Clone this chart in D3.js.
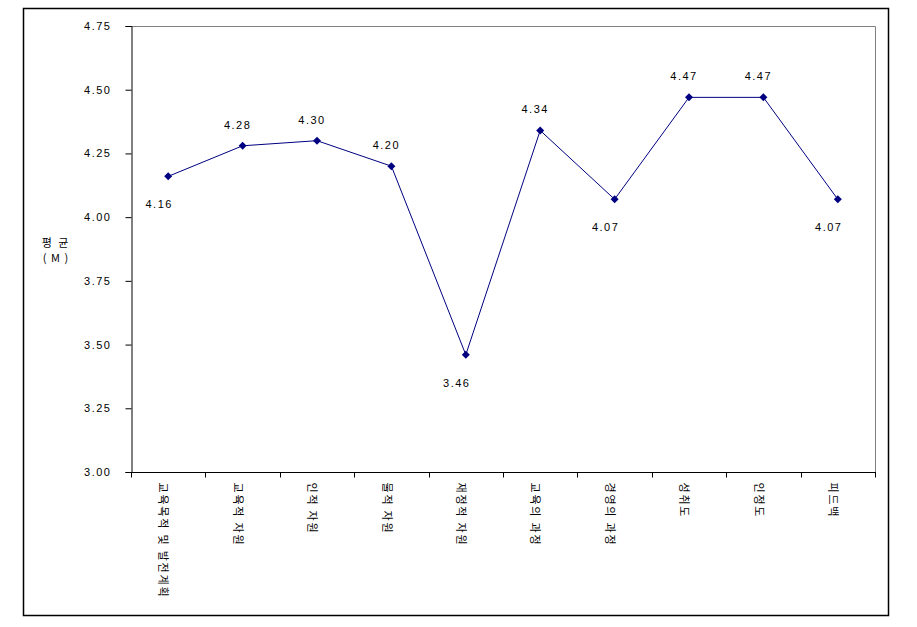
<!DOCTYPE html>
<html>
<head>
<meta charset="utf-8">
<script src="https://cdn.jsdelivr.net/npm/d3@7"></script>
<style>
body { margin: 0; background: #fff; }
svg text { font-family: "Noto Sans CJK KR", "DejaVu Sans", sans-serif; font-size: 11px; fill: #000; }
.num { font-family: "Liberation Sans", sans-serif; letter-spacing: 1.5px; font-size: 11px; }
.xlab { letter-spacing: 1.8px; }
</style>
</head>
<body>
<svg id="chart" width="917" height="627"></svg>
<script>
// categories and values
var categories = ["교육목적 및 발전계획", "교육적 자원", "인적 자원", "물적 자원", "재정적 자원",
    "교육의 과정", "경영의 과정", "성취도", "인정도", "피드백"];
var means = [4.16, 4.28, 4.30, 4.20, 3.46, 4.34, 4.07, 4.47, 4.47, 4.07];
var yTicks = [3.00, 3.25, 3.50, 3.75, 4.00, 4.25, 4.50, 4.75];
// label placement: below the point or not
var labelBelow = [true, false, false, false, true, false, true, false, false, true];

var svg = d3.select("#chart");
var plot = { left: 131, top: 26, right: 875, bottom: 472 };

//outer frame
svg.append("rect")
    .attr("x", 23.5).attr("y", 8.5)
    .attr("width", 865).attr("height", 607)
    .attr("fill", "none").attr("stroke", "#000").attr("stroke-width", 1.5);

var x = d3.scaleBand().domain(categories).range([plot.left, plot.right]);
var y = d3.scaleLinear().domain([3, 4.75]).range([plot.bottom, plot.top]);

//plot area border (grey top/right)
svg.append("path")
    .attr("d", "M" + plot.left + "," + (plot.top + 0.5) + "H" + (plot.right + 0.5) + "V" + plot.bottom)
    .attr("fill", "none").attr("stroke", "#808080");

//y axis
var yAxis = svg.append("g")
    .attr("transform", "translate(" + (plot.left + 0.5) + ",0)")
    .call(d3.axisLeft(y).tickValues(yTicks).tickFormat(d3.format(".2f")).tickSize(6).tickPadding(14));
yAxis.select(".domain").attr("stroke", "#000");
yAxis.selectAll("text").attr("class", "num").style("font-size", null);

//x axis
var xAxis = svg.append("g")
    .attr("transform", "translate(0," + (plot.bottom + 0.5) + ")");
xAxis.append("line")
    .attr("x1", plot.left).attr("x2", plot.right + 1)
    .attr("stroke", "#000");
xAxis.selectAll(".xtick")
    .data(d3.range(categories.length + 1))
    .enter().append("line")
    .attr("x1", i => Math.round(plot.left + i * x.step()) + 0.5)
    .attr("x2", i => Math.round(plot.left + i * x.step()) + 0.5)
    .attr("y1", 0).attr("y2", 5)
    .attr("stroke", "#000");
xAxis.selectAll(".xlab")
    .data(categories)
    .enter().append("text")
    .attr("class", "xlab")
    .attr("transform", d => "translate(" + (x(d) + x.bandwidth() / 2 - 5) + ",10) rotate(90)")
    .attr("dy", "0.35em")
    .attr("text-anchor", "start")
    .text(d => d);

//y axis title
svg.append("text").attr("x", 56).attr("y", 247).attr("text-anchor", "middle")
    .style("letter-spacing", "2px").text("평 균");
svg.append("text").attr("x", 56).attr("y", 262).attr("text-anchor", "middle")
    .style("letter-spacing", "1px").text("( M )");

//series
var pts = means.map((v, i) => ({ cat: categories[i], value: v, below: labelBelow[i] }));
var cx = d => x(d.cat) + x.bandwidth() / 2;

svg.append("path")
    .datum(pts)
    .attr("fill", "none")
    .attr("stroke", "#000080")
    .attr("stroke-width", 1)
    .attr("d", d3.line().x(cx).y(d => y(d.value)));

svg.selectAll(".marker")
    .data(pts)
    .enter().append("path")
    .attr("class", "marker")
    .attr("transform", d => "translate(" + cx(d) + "," + y(d.value) + ")")
    .attr("d", "M0,-4L4,0L0,4L-4,0Z")
    .attr("fill", "#000080");

svg.selectAll(".vlab")
    .data(pts)
    .enter().append("text")
    .attr("class", "num")
    .attr("x", d => cx(d) - (d.below ? 9 : 5))
    .attr("y", d => y(d.value) + (d.below ? 32 : -17))
    .attr("text-anchor", "middle")
    .text(d => d.value.toFixed(2));
</script>
</body>
</html>
